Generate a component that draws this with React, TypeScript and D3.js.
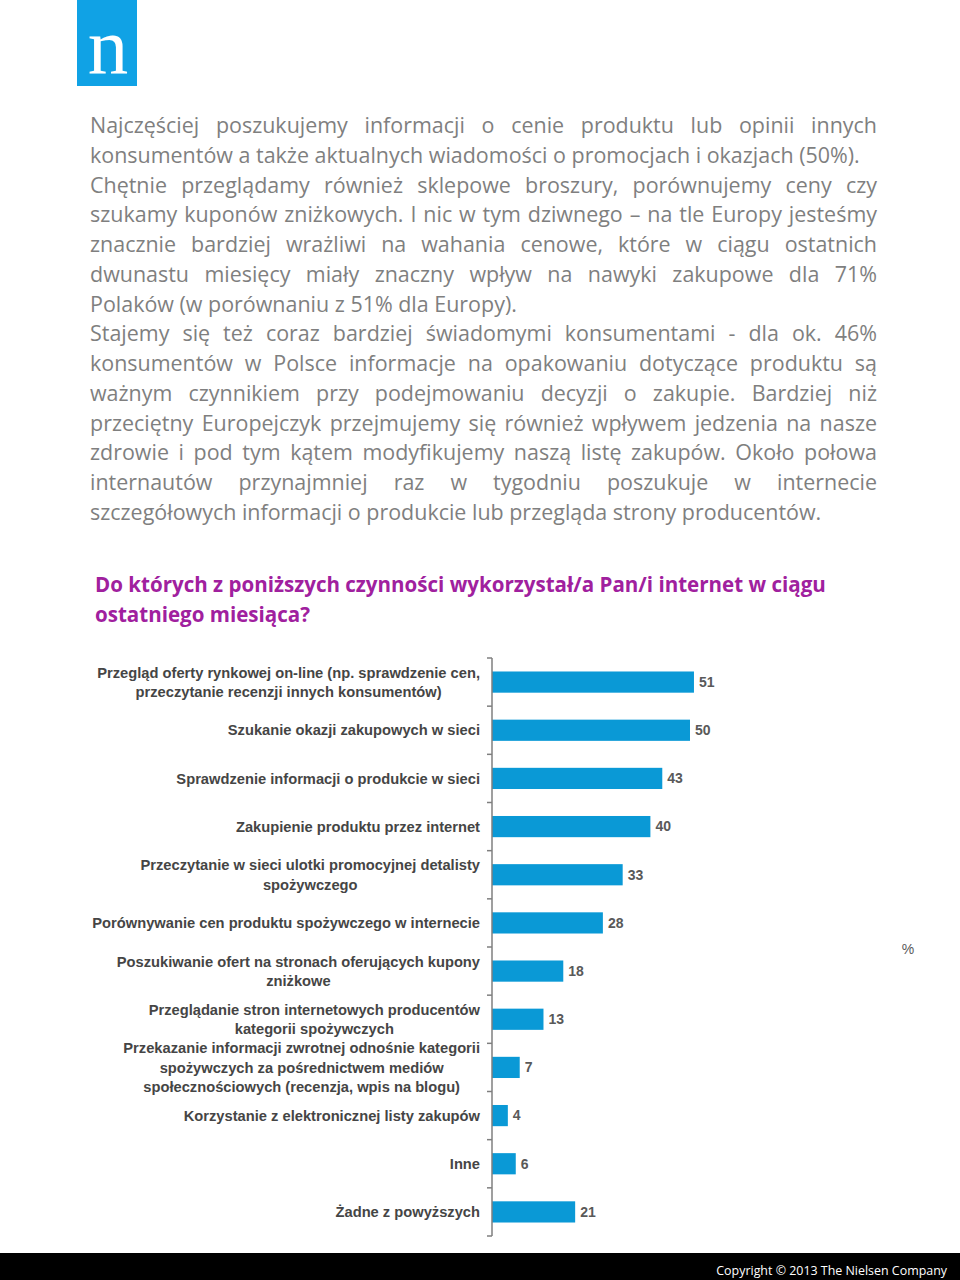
import React, { useEffect, useRef } from 'react';
import * as d3 from 'd3';

const paragraphLines = [
  'Najczęściej poszukujemy informacji o cenie produktu lub opinii innych',
  'konsumentów a także aktualnych wiadomości o promocjach i okazjach (50%).',
  'Chętnie przeglądamy również sklepowe broszury, porównujemy ceny czy',
  'szukamy kuponów zniżkowych. I nic w tym dziwnego – na tle Europy jesteśmy',
  'znacznie bardziej wrażliwi na wahania cenowe, które w ciągu ostatnich',
  'dwunastu miesięcy miały znaczny wpływ na nawyki zakupowe dla 71%',
  'Polaków (w porównaniu z 51% dla Europy).',
  'Stajemy się też coraz bardziej świadomymi konsumentami - dla ok. 46%',
  'konsumentów w Polsce informacje na opakowaniu dotyczące produktu są',
  'ważnym czynnikiem przy podejmowaniu decyzji o zakupie. Bardziej niż',
  'przeciętny Europejczyk przejmujemy się również wpływem jedzenia na nasze',
  'zdrowie i pod tym kątem modyfikujemy naszą listę zakupów. Około połowa',
  'internautów przynajmniej raz w tygodniu poszukuje w internecie',
  'szczegółowych informacji o produkcie lub przegląda strony producentów.',
];
const justifiedLines = [true, false, true, true, true, true, false, true, true, true, true, true, true, false];

const titleLines = [
  'Do których z poniższych czynności wykorzystał/a Pan/i internet w ciągu',
  'ostatniego miesiąca?',
];

const categories: string[][] = [
  ['Przegląd oferty rynkowej on-line (np. sprawdzenie cen,', 'przeczytanie recenzji innych konsumentów)'],
  ['Szukanie okazji zakupowych w sieci'],
  ['Sprawdzenie informacji o produkcie w sieci'],
  ['Zakupienie produktu przez internet'],
  ['Przeczytanie w sieci ulotki promocyjnej detalisty', 'spożywczego'],
  ['Porównywanie cen produktu spożywczego w internecie'],
  ['Poszukiwanie ofert na stronach oferujących kupony', 'zniżkowe'],
  ['Przeglądanie stron internetowych producentów', 'kategorii spożywczych'],
  ['Przekazanie informacji zwrotnej odnośnie kategorii', 'spożywczych za pośrednictwem mediów', 'społecznościowych (recenzja, wpis na blogu)'],
  ['Korzystanie z elektronicznej listy zakupów'],
  ['Inne'],
  ['Żadne z powyższych'],
];
const values = [51, 50, 43, 40, 33, 28, 18, 13, 7, 4, 6, 21];
const unitLabel = '%';
const logoLetter = 'n';
const copyright = 'Copyright © 2013 The Nielsen Company';

export default function App() {
  const ref = useRef<SVGSVGElement>(null);

  useEffect(() => {
    const node = ref.current;
    if (!node) return;
    const svg = d3.select(node);
    svg.selectAll('*').remove();
    const W = 960;
    const H = 1280;

    svg.append('rect').attr('width', W).attr('height', H).attr('fill', '#ffffff');

    const measure = (txt: string, family: string, size: number, weight: string) => {
      const t = svg
        .append('text')
        .attr('font-family', family)
        .attr('font-size', size)
        .attr('font-weight', weight)
        .text(txt);
      const w = (t.node() as SVGTextElement).getComputedTextLength();
      t.remove();
      return w;
    };
    const fit = (txt: string, family: string, base: number, weight: string, target: number, lo: number, hi: number) => {
      const w = measure(txt, family, base, weight);
      return Math.max(lo, Math.min(hi, (base * target) / w));
    };

    // Logo
    svg.append('rect').attr('x', 77).attr('y', 0).attr('width', 60).attr('height', 86).attr('fill', '#10A2E5');
    svg
      .append('text')
      .attr('x', 108)
      .attr('y', 73)
      .attr('text-anchor', 'middle')
      .attr('font-family', 'Liberation Serif, DejaVu Serif, serif')
      .attr('font-size', 81)
      .attr('fill', '#ffffff')
      .text(logoLetter);

    // Paragraph
    const pFam = 'Open Sans, sans-serif';
    const pSize = fit(paragraphLines[1], pFam, 19, 'normal', 770, 16, 22);
    const left = 90;
    const right = 877;
    const pg = svg.append('g').attr('fill', '#7f7f7f').attr('font-family', pFam).attr('font-size', pSize);
    paragraphLines.forEach((line, i) => {
      const y = 133 + i * 29.75;
      if (!justifiedLines[i]) {
        pg.append('text').attr('x', left).attr('y', y).text(line);
        return;
      }
      const words = line.split(' ');
      const widths = words.map((w) => measure(w, pFam, pSize, 'normal'));
      const total = d3.sum(widths);
      const gap = (right - left - total) / (words.length - 1);
      let x = left;
      const t = pg.append('text').attr('y', y);
      words.forEach((w, k) => {
        t.append('tspan').attr('x', x).text(w);
        x += widths[k] + gap;
      });
    });

    // Title
    const tFam = 'Open Sans, sans-serif';
    const tSize = fit(titleLines[0], tFam, 19, 'bold', 731, 16, 22);
    const tg = svg.append('g').attr('fill', '#A0209E').attr('font-family', tFam).attr('font-size', tSize).attr('font-weight', 'bold');
    titleLines.forEach((line, i) => {
      tg.append('text').attr('x', 95).attr('y', 592 + i * 30).text(line);
    });

    // Chart
    const y = d3
      .scaleBand<number>()
      .domain(d3.range(values.length))
      .range([658, 1236])
      .paddingInner(0.56)
      .paddingOuter(0.28);
    const x0 = 492;
    const x = d3.scaleLinear().domain([0, 60]).range([x0, x0 + 60 * 3.96]);
    const step = y.step();
    const pad = (step * 0.56) / 2;

    const cg = svg.append('g');
    cg.selectAll('rect.bar')
      .data(values)
      .join('rect')
      .attr('class', 'bar')
      .attr('x', x(0))
      .attr('y', (_d, i) => y(i)!)
      .attr('width', (d) => x(d) - x(0))
      .attr('height', y.bandwidth())
      .attr('fill', '#0A99D6');

    // axis
    cg.append('line')
      .attr('x1', x0)
      .attr('x2', x0)
      .attr('y1', 658)
      .attr('y2', 1236)
      .attr('stroke', '#7f7f7f')
      .attr('stroke-width', 1.5);
    const tickYs = d3.range(values.length + 1).map((i) => (i < values.length ? y(i)! - pad : y(values.length - 1)! + y.bandwidth() + pad));
    cg.selectAll('line.tick')
      .data(tickYs)
      .join('line')
      .attr('class', 'tick')
      .attr('x1', x0 - 5)
      .attr('x2', x0)
      .attr('y1', (d) => d)
      .attr('y2', (d) => d)
      .attr('stroke', '#7f7f7f')
      .attr('stroke-width', 1.5);

    // value labels
    const vFam = 'Liberation Sans, Arial, sans-serif';
    cg.selectAll('text.val')
      .data(values)
      .join('text')
      .attr('class', 'val')
      .attr('x', (d) => x(d) + 5)
      .attr('y', (_d, i) => y(i)! + y.bandwidth() / 2)
      .attr('dy', '0.35em')
      .attr('font-family', vFam)
      .attr('font-size', 14)
      .attr('font-weight', 'bold')
      .attr('fill', '#595959')
      .text((d) => String(d));

    // category labels
    const lFam = 'Liberation Sans, Arial, sans-serif';
    const lSize = fit(categories[0][0], lFam, 13, 'bold', 383, 11, 15);
    const lineH = 19.3;
    const lg = svg.append('g').attr('font-family', lFam).attr('font-size', lSize).attr('font-weight', 'bold').attr('fill', '#454545');
    categories.forEach((lines, i) => {
      const maxW = d3.max(lines, (l) => measure(l, lFam, lSize, 'bold')) || 0;
      const cx = 480 - maxW / 2;
      const cy = y(i)! + y.bandwidth() / 2;
      lines.forEach((l, k) => {
        const ly = cy + (k - (lines.length - 1) / 2) * lineH;
        lg.append('text').attr('x', cx).attr('y', ly).attr('dy', '0.35em').attr('text-anchor', 'middle').text(l);
      });
    });

    // unit label
    svg
      .append('text')
      .attr('x', 908)
      .attr('y', 949)
      .attr('dy', '0.35em')
      .attr('text-anchor', 'middle')
      .attr('font-family', 'Liberation Sans, Arial, sans-serif')
      .attr('font-size', 14)
      .attr('fill', '#595959')
      .text(unitLabel);

    // footer
    svg.append('rect').attr('x', 0).attr('y', 1253).attr('width', W).attr('height', H - 1253).attr('fill', '#000000');
    const fFam = 'Open Sans, sans-serif';
    const fSize = fit(copyright, fFam, 13, 'normal', 231, 11, 16);
    svg
      .append('text')
      .attr('x', 947)
      .attr('y', 1275)
      .attr('text-anchor', 'end')
      .attr('font-family', fFam)
      .attr('font-size', fSize)
      .attr('fill', '#ffffff')
      .text(copyright);
  }, []);

  return (
    <svg
      ref={ref}
      width={960}
      height={1280}
      style={{ position: 'absolute', left: 0, top: 0, display: 'block' }}
    />
  );
}
